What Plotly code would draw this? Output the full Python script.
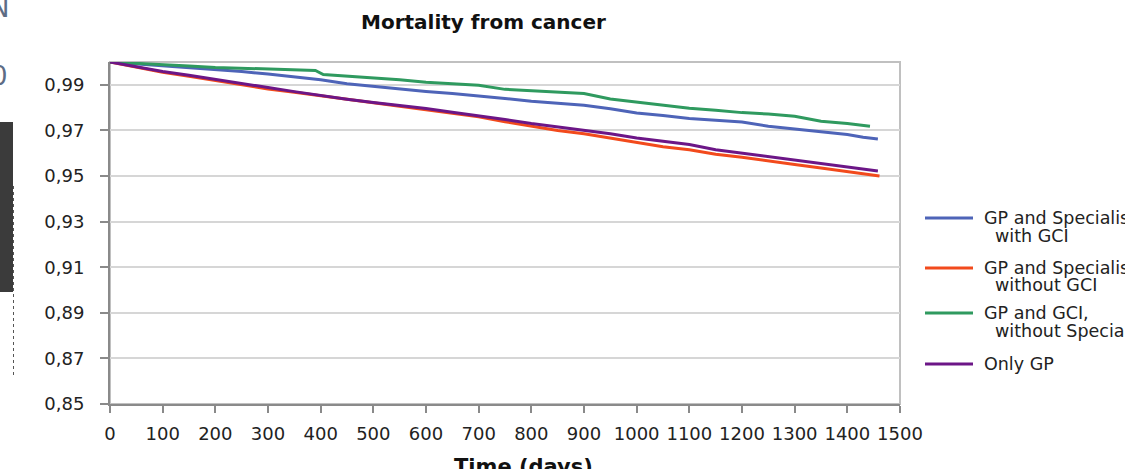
import plotly.graph_objects as go

# ---- data ----
series_names = ["GP and Specialist with GCI", "GP and Specialist without GCI",
                "GP and GCI, without Specialist", "Only GP"]

days_blue = [0, 50, 100, 150, 200, 250, 300, 350, 400, 450, 500, 550, 600, 650, 700, 750,
             800, 850, 900, 950, 1000, 1050, 1100, 1150, 1200, 1250, 1300, 1350, 1400, 1430, 1458]
surv_blue = [1.0, 0.9992, 0.9983, 0.9976, 0.9968, 0.9958, 0.9947, 0.9935, 0.9922, 0.9905,
             0.9893, 0.9882, 0.9871, 0.9862, 0.9852, 0.9840, 0.9828, 0.9820, 0.9810, 0.9795,
             0.9776, 0.9765, 0.9752, 0.9745, 0.9737, 0.9718, 0.9705, 0.9692, 0.9682, 0.9670, 0.9662]

days_red = [0, 50, 100, 150, 200, 250, 300, 350, 400, 450, 500, 550, 600, 650, 700, 750,
            800, 850, 900, 950, 1000, 1050, 1100, 1150, 1200, 1250, 1300, 1350, 1400, 1440, 1461]
surv_red = [1.0, 0.9976, 0.9955, 0.9937, 0.9918, 0.9900, 0.9882, 0.9867, 0.9852, 0.9836,
            0.9820, 0.9806, 0.9792, 0.9776, 0.9760, 0.9738, 0.9718, 0.9700, 0.9685, 0.9665,
            0.9645, 0.9628, 0.9615, 0.9595, 0.9582, 0.9565, 0.9550, 0.9535, 0.9520, 0.9505, 0.9500]

days_green = [0, 50, 100, 150, 200, 250, 300, 350, 390, 405, 450, 500, 550, 600, 650, 700,
              750, 800, 850, 900, 950, 1000, 1050, 1100, 1150, 1200, 1250, 1300, 1350, 1400, 1443]
surv_green = [1.0, 0.9993, 0.9987, 0.9982, 0.9976, 0.9972, 0.9968, 0.9966, 0.9963, 0.9945,
              0.9938, 0.9930, 0.9922, 0.9911, 0.9905, 0.9898, 0.9880, 0.9875, 0.9870, 0.9862,
              0.9838, 0.9825, 0.9812, 0.9797, 0.9788, 0.9778, 0.9772, 0.9762, 0.9740, 0.9730, 0.9718]

days_purple = [0, 50, 100, 150, 200, 250, 300, 350, 400, 450, 500, 550, 600, 650, 700, 750,
               800, 850, 900, 950, 1000, 1050, 1100, 1150, 1200, 1250, 1300, 1350, 1400, 1458]
surv_purple = [1.0, 0.9978, 0.9958, 0.9942, 0.9925, 0.9905, 0.9888, 0.9870, 0.9852, 0.9837,
               0.9822, 0.9810, 0.9796, 0.9780, 0.9765, 0.9748, 0.9730, 0.9716, 0.9700, 0.9685,
               0.9667, 0.9652, 0.9638, 0.9615, 0.9600, 0.9585, 0.9570, 0.9556, 0.9540, 0.9522]

legend_lines = [["GP and Specialist", "with GCI"],
                ["GP and Specialist", "without GCI"],
                ["GP and GCI,", "without Specialist"],
                ["Only GP"]]
colors = ["#4e64b8", "#f24a1c", "#2f9a5f", "#6c1687"]

x_ticks = list(range(0, 1501, 100))
y_ticks = [0.85, 0.87, 0.89, 0.91, 0.93, 0.95, 0.97, 0.99]

# ---- layout geometry (pixels) ----
W, H = 1125, 469
L, R, T, B = 110, 225, 62, 65
pw, ph = W - L - R, H - T - B

def px_x(p):
    return (p - L) / pw

def px_y(p):
    return (H - B - p) / ph

FONT = "DejaVu Sans"

fig = go.Figure()
data = [(days_blue, surv_blue), (days_red, surv_red), (days_green, surv_green), (days_purple, surv_purple)]
for (d, s), name, c in zip(data, series_names, colors):
    fig.add_trace(go.Scatter(x=d, y=s, mode="lines", name=name,
                             line=dict(color=c, width=3), showlegend=False))

shapes = []
# plot border (top/right)
shapes.append(dict(type="rect", xref="paper", yref="paper", x0=0, x1=1, y0=0, y1=1,
                   line=dict(color="#c0c0c0", width=2), layer="below"))
# legend samples
leg_y = [218, 268, 313, 364]
for yy, c in zip(leg_y, colors):
    shapes.append(dict(type="line", xref="paper", yref="paper",
                       x0=px_x(925), x1=px_x(973), y0=px_y(yy), y1=px_y(yy),
                       line=dict(color=c, width=3)))
# background slide artifacts at left
shapes.append(dict(type="rect", xref="paper", yref="paper",
                   x0=px_x(0), x1=px_x(13), y0=px_y(292), y1=px_y(122),
                   fillcolor="#3b3b3b", line=dict(width=0)))
shapes.append(dict(type="line", xref="paper", yref="paper",
                   x0=px_x(13.5), x1=px_x(13.5), y0=px_y(375), y1=px_y(185),
                   line=dict(color="#555555", width=1, dash="dot")))

annotations = []
annotations.append(dict(text="<b>Mortality from cancer</b>", xref="paper", yref="paper",
                        x=px_x(483), y=px_y(22), showarrow=False,
                        font=dict(family=FONT, size=20, color="#111111"),
                        xanchor="center", yanchor="middle"))
annotations.append(dict(text="<b>Time (days)</b>", xref="paper", yref="paper",
                        x=px_x(523), y=px_y(467), showarrow=False,
                        font=dict(family=FONT, size=21, color="#111111"),
                        xanchor="center", yanchor="middle"))
line_offsets = [[218, 236], [268, 285], [313, 331], [364]]
for lines, ys in zip(legend_lines, line_offsets):
    for i, (t, yy) in enumerate(zip(lines, ys)):
        xx = 982 if i == 0 else 993
        annotations.append(dict(text=t, xref="paper", yref="paper",
                                x=px_x(xx), y=px_y(yy), showarrow=False,
                                font=dict(family=FONT, size=17.5, color="#222222"),
                                xanchor="left", yanchor="middle"))
annotations.append(dict(text="N", xref="paper", yref="paper", x=px_x(11), y=px_y(8),
                        showarrow=False, font=dict(family=FONT, size=26, color="#5d6c85"),
                        xanchor="right", yanchor="middle"))
annotations.append(dict(text="0", xref="paper", yref="paper", x=px_x(10), y=px_y(76),
                        showarrow=False, font=dict(family=FONT, size=26, color="#5d6c85"),
                        xanchor="right", yanchor="middle"))

fig.update_layout(
    width=W, height=H,
    margin=dict(l=L, r=R, t=T, b=B, autoexpand=False),
    paper_bgcolor="white", plot_bgcolor="white",
    separators=",.",
    font=dict(family=FONT, color="#222222"),
    shapes=shapes, annotations=annotations,
    xaxis=dict(range=[0, 1500], tickvals=x_ticks, ticks="outside", ticklen=7,
               tickcolor="#8a8a8a", tickwidth=1.5, showline=True, linecolor="#8a8a8a",
               linewidth=2, showgrid=False, zeroline=False,
               tickfont=dict(family=FONT, size=18, color="#222222"),
               ticklabelstandoff=5),
    yaxis=dict(range=[0.85, 1.0], tickvals=y_ticks, tickformat=".2f", ticks="outside",
               ticklen=8, tickcolor="#8a8a8a", tickwidth=1.5, showline=True,
               linecolor="#8a8a8a", linewidth=2, showgrid=True, gridcolor="#d6d6d6",
               gridwidth=1.5, zeroline=False,
               tickfont=dict(family=FONT, size=18, color="#222222"),
               ticklabelstandoff=12),
)

fig.write_html("out.html")
